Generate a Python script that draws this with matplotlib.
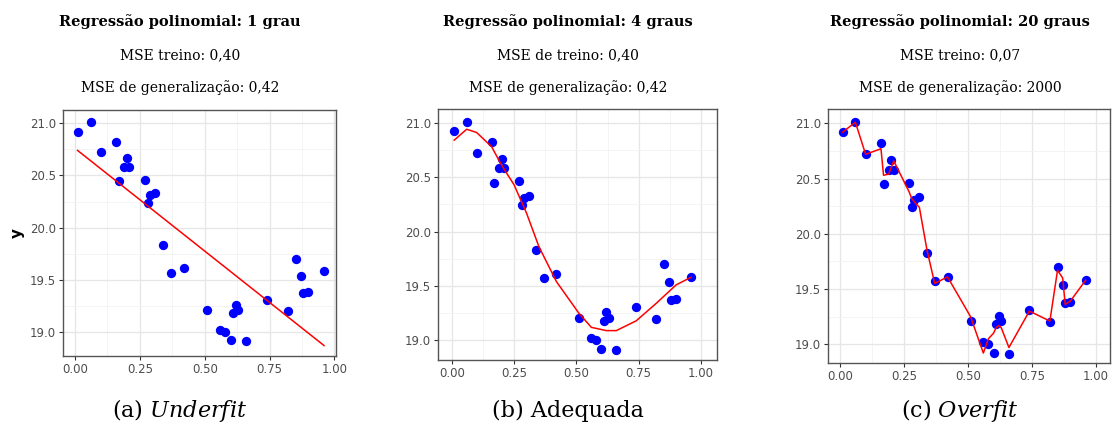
import matplotlib.pyplot as plt

plt.rcParams["mathtext.fontset"] = "dejavuserif"

# data points (same sample in all three panels)
x = [0.01, 0.06, 0.10, 0.16, 0.17, 0.19, 0.20, 0.21, 0.27, 0.28,
     0.29, 0.31, 0.34, 0.37, 0.42, 0.51, 0.56, 0.58, 0.60, 0.61,
     0.62, 0.63, 0.66, 0.74, 0.82, 0.85, 0.87, 0.88, 0.90, 0.96]
y = [20.92, 21.01, 20.72, 20.82, 20.45, 20.58, 20.67, 20.58, 20.46, 20.24,
     20.31, 20.33, 19.83, 19.57, 19.61, 19.21, 19.02, 19.00, 18.92, 19.18,
     19.26, 19.21, 18.91, 19.31, 19.20, 19.70, 19.54, 19.37, 19.38, 19.58]

# fitted curves
fit1_x = [0.01, 0.96]
fit1_y = [20.74, 18.87]

fit4_x = [0.01, 0.06, 0.10, 0.16, 0.20, 0.25, 0.30, 0.35, 0.42, 0.51,
          0.56, 0.62, 0.66, 0.74, 0.82, 0.90, 0.96]
fit4_y = [20.84, 20.94, 20.91, 20.78, 20.61, 20.43, 20.17, 19.86, 19.54, 19.25,
          19.12, 19.09, 19.09, 19.18, 19.34, 19.51, 19.58]

fit20_y = [20.92, 21.01, 20.72, 20.77, 20.53, 20.54, 20.60, 20.66, 20.38, 20.32,
           20.29, 20.24, 19.85, 19.55, 19.61, 19.25, 18.92, 19.05, 19.10, 19.15,
           19.17, 19.15, 18.97, 19.30, 19.21, 19.67, 19.60, 19.36, 19.39, 19.58]

titles = ["Regressão polinomial: 1 grau",
          "Regressão polinomial: 4 graus",
          "Regressão polinomial: 20 graus"]
mse_train = ["MSE treino: 0,40", "MSE de treino: 0,40", "MSE treino: 0,07"]
mse_gen = ["MSE de generalização: 0,42", "MSE de generalização: 0,42",
           "MSE de generalização: 2000"]
captions = [("(a) ", "Underfit", True), ("(b) ", "Adequada", False), ("(c) ", "Overfit", True)]

fits = [(fit1_x, fit1_y), (fit4_x, fit4_y), (x, fit20_y)]

W, H = 1112, 432
fig = plt.figure(figsize=(W / 100, H / 100), dpi=100)

# axes boxes in pixels: left, top, right, bottom
boxes = [(63, 110, 336, 356), (438, 109, 717, 360), (828, 109, 1110, 363)]
xlims = [(-0.046, 1.006), (-0.055, 1.064), (-0.047, 1.055)]
ylims = [(18.77, 21.127), (18.82, 21.126), (18.83, 21.13)]
centers = [180, 568, 960]

for i in range(3):
    l, t, r, b = boxes[i]
    ax = fig.add_axes([l / W, 1 - b / H, (r - l) / W, (b - t) / H])
    ax.set_xlim(*xlims[i])
    ax.set_ylim(*ylims[i])
    ax.set_xticks([0, 0.25, 0.5, 0.75, 1.0])
    ax.set_xticklabels(["0.00", "0.25", "0.50", "0.75", "1.00"])
    ax.set_yticks([19.0, 19.5, 20.0, 20.5, 21.0])
    ax.set_xticks([0.125, 0.375, 0.625, 0.875], minor=True)
    ax.set_yticks([19.25, 19.75, 20.25, 20.75], minor=True)
    ax.grid(True, which="major", color="#e6e6e6", linewidth=0.9)
    ax.grid(True, which="minor", color="#f2f2f2", linewidth=0.6)
    ax.set_axisbelow(True)
    ax.tick_params(which="minor", length=0)
    ax.tick_params(which="major", length=3, color="#333333", labelsize=8.5,
                   labelcolor="#4d4d4d", pad=2)
    for s in ax.spines.values():
        s.set_color("#555555")
        s.set_linewidth(1.0)

    ax.scatter(x, y, s=45, color="blue", zorder=3, linewidths=0)
    fx, fy = fits[i]
    ax.plot(fx, fy, color="red", linewidth=1.1, zorder=4)

    if i == 0:
        ax.set_ylabel("y", fontsize=11, fontweight="bold", labelpad=4)

    cx = centers[i] / W
    fig.text(cx, 1 - 22 / H, titles[i], ha="center", va="center",
             fontsize=10.5, fontweight="bold", family="DejaVu Serif")
    fig.text(cx, 1 - 55 / H, mse_train[i], ha="center", va="center",
             fontsize=10, family="DejaVu Serif")
    fig.text(cx, 1 - 88 / H, mse_gen[i], ha="center", va="center",
             fontsize=10, family="DejaVu Serif")

    pre, word, ital = captions[i]
    label = pre + (r"$\it{" + word + "}$" if ital else word)
    fig.text(cx, 1 - 411 / H, label, ha="center", va="center",
             fontsize=16, family="DejaVu Serif")

fig.savefig("out.png", dpi=100)
